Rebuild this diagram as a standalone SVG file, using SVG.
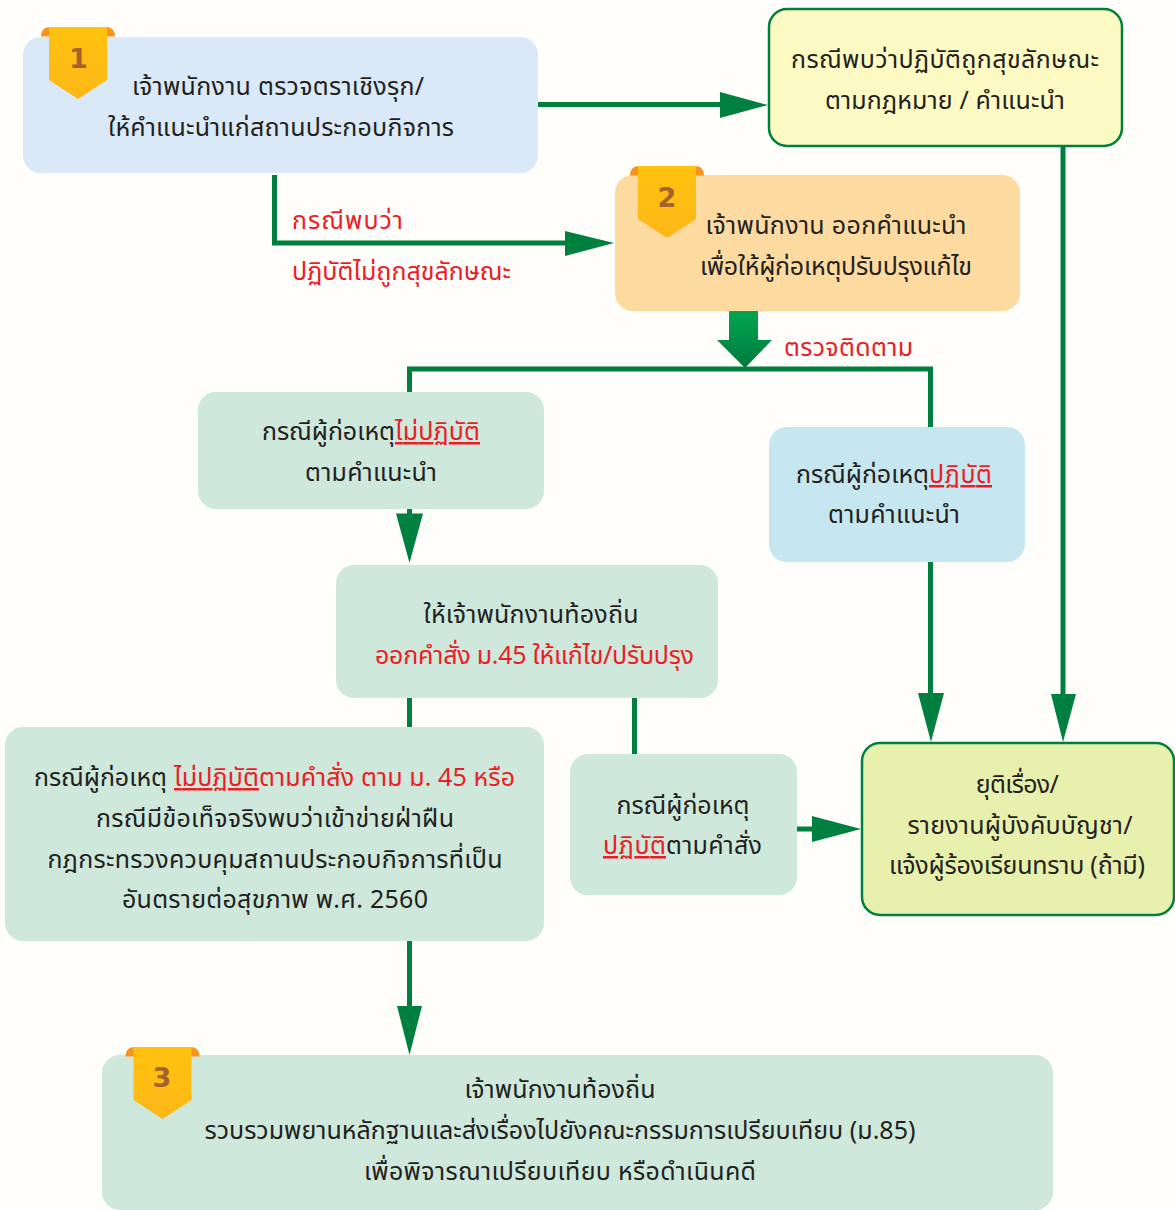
<svg xmlns="http://www.w3.org/2000/svg" width="1175" height="1210" viewBox="0 0 1175 1210">
<style>
text{font-family:"Noto Sans","Noto Sans Thai","Liberation Sans","DejaVu Sans",sans-serif;font-size:25px;fill:#231f20;text-anchor:middle}
.r{fill:#ed1c24}
.s{fill:#ed1c24;text-anchor:start}
.u{text-decoration:underline}
.c{fill:none;stroke:#00803f;stroke-width:5}
.a{fill:#00803f}
.n{font-family:"DejaVu Sans",sans-serif;font-size:27px;font-weight:700;fill:#a4622d}
.o{stroke:#00803f;stroke-width:2.5}
</style>
<defs>
<linearGradient id="gold" x1="0" y1="0" x2="0" y2="1"><stop offset="0" stop-color="#ffc20e"/><stop offset="1" stop-color="#fdb718"/></linearGradient>
<linearGradient id="thick" x1="0" y1="0" x2="0" y2="1"><stop offset="0" stop-color="#00a651"/><stop offset="1" stop-color="#007a3d"/></linearGradient>
<g id="badge">
<path d="M-3 9.500C-3 3 1 0 6 0H62C67 0 71 3 71 9.500Z" fill="#f7941d"/>
<path d="M5 0H63V53L34 72L5 53Z" fill="url(#gold)"/>
</g>
</defs>
<rect width="1175" height="1210" fill="#fffefb"/>
<g id="connectors">
<path class="c" d="M538 104.500H725"/><path class="a" d="M768 105L720 92V118Z"/>
<path class="c" d="M274.500 175V243H570"/><path class="a" d="M614 243L565 231V256Z"/>
<path d="M729 311H758V340H772L745 368L717 340H729Z" fill="url(#thick)"/>
<path class="c" d="M409.500 392V369H930.500V427"/>
<path class="c" d="M409.500 509V520"/><path class="a" d="M409.500 563L396 513.500H423Z"/>
<path class="c" d="M930.500 562V700"/><path class="a" d="M931 742L918 693H944Z"/>
<path class="c" d="M1063 146V700"/><path class="a" d="M1063 742L1051 694H1076Z"/>
<path class="c" d="M409.500 698V727"/>
<path class="c" d="M634.500 698V754"/>
<path class="c" d="M797 829H820"/><path class="a" d="M861 829L812 816V842Z"/>
<path class="c" d="M409.500 941V1010"/><path class="a" d="M409.500 1055L397 1006H422Z"/>
</g>
<g id="node-1"><rect x="23" y="37" width="515" height="136" rx="18" fill="#d9e9f7"/><use href="#badge" x="44" y="27"/><text class="n" x="78.500" y="68">1</text>
<text x="278" y="95" textLength="292">เจ้าพนักงาน ตรวจตราเชิงรุก/</text><text x="281" y="136" textLength="346">ให้คำแนะนำแก่สถานประกอบกิจการ</text></g>
<g id="node-yellow"><rect class="o" x="769" y="9" width="353" height="137" rx="18" fill="#fefac4"/>
<text x="945" y="68" textLength="308">กรณีพบว่าปฏิบัติถูกสุขลักษณะ</text><text x="945" y="109" textLength="240">ตามกฎหมาย / คำแนะนำ</text></g>
<g id="node-2"><rect x="615" y="175" width="405" height="136" rx="18" fill="#fddba0"/><use href="#badge" x="633" y="166"/><text class="n" x="667" y="207">2</text>
<text x="836" y="234" textLength="261">เจ้าพนักงาน ออกคำแนะนำ</text><text x="836" y="275" textLength="272">เพื่อให้ผู้ก่อเหตุปรับปรุงแก้ไข</text></g>
<g id="label-a"><text class="s" x="292" y="229" textLength="111">กรณีพบว่า</text><text class="s" x="292" y="280" textLength="219">ปฏิบัติไม่ถูกสุขลักษณะ</text></g>
<g id="label-b"><text class="s" x="784" y="356" textLength="129">ตรวจติดตาม</text></g>
<g id="node-no"><rect x="198" y="392" width="346" height="117" rx="18" fill="#cee8dc"/>
<text x="262" y="440" style="text-anchor:start" textLength="133">กรณีผู้ก่อเหตุ</text><text class="s u" x="395" y="440" textLength="85">ไม่ปฏิบัติ</text><text x="371" y="481" textLength="132">ตามคำแนะนำ</text></g>
<g id="node-yes"><rect x="769" y="427" width="256" height="135" rx="18" fill="#c6e7ef"/>
<text x="796" y="483" style="text-anchor:start" textLength="133">กรณีผู้ก่อเหตุ</text><text class="s u" x="929" y="483" textLength="63">ปฏิบัติ</text><text x="894" y="523" textLength="132">ตามคำแนะนำ</text></g>
<g id="node-order"><rect x="336" y="565" width="382" height="133" rx="18" fill="#cee8dc"/>
<text x="531" y="623" textLength="215">ให้เจ้าพนักงานท้องถิ่น</text><text class="r" x="534.500" y="664" textLength="319">ออกคำสั่ง ม.45 ให้แก้ไข/ปรับปรุง</text></g>
<g id="node-violate"><rect x="5" y="727" width="539" height="214" rx="18" fill="#cee8dc"/>
<text x="34" y="786" style="text-anchor:start" textLength="133">กรณีผู้ก่อเหตุ</text><text class="s u" x="174" y="786" textLength="85">ไม่ปฏิบัติ</text><text class="s" x="259" y="786" textLength="256">ตามคำสั่ง ตาม ม. 45 หรือ</text>
<text x="275" y="827" textLength="358">กรณีมีข้อเท็จจริงพบว่าเข้าข่ายฝ่าฝืน</text><text x="275" y="868" textLength="455">กฎกระทรวงควบคุมสถานประกอบกิจการที่เป็น</text><text x="275" y="908" textLength="306">อันตรายต่อสุขภาพ พ.ศ. 2560</text></g>
<g id="node-comply"><rect x="570" y="754" width="227" height="141" rx="18" fill="#cee8dc"/>
<text x="683" y="814" textLength="133">กรณีผู้ก่อเหตุ</text><text class="s u" x="603" y="854" textLength="63">ปฏิบัติ</text><text x="666" y="854" style="text-anchor:start" textLength="96">ตามคำสั่ง</text></g>
<g id="node-end"><rect class="o" x="862" y="743" width="312" height="172" rx="18" fill="#e8f0ad"/>
<text x="1017" y="793" textLength="83">ยุติเรื่อง/</text><text x="1020" y="834" textLength="225">รายงานผู้บังคับบัญชา/</text><text x="1017" y="874" textLength="256">แจ้งผู้ร้องเรียนทราบ (ถ้ามี)</text></g>
<g id="node-3"><rect x="102" y="1055" width="951" height="155" rx="18" fill="#cee8dc"/><use href="#badge" x="128.500" y="1047"/><text class="n" x="162" y="1087">3</text>
<text x="560" y="1098" textLength="191">เจ้าพนักงานท้องถิ่น</text><text x="560" y="1139" textLength="711">รวบรวมพยานหลักฐานและส่งเรื่องไปยังคณะกรรมการเปรียบเทียบ (ม.85)</text><text x="560" y="1180" textLength="392">เพื่อพิจารณาเปรียบเทียบ หรือดำเนินคดี</text></g>
</svg>
